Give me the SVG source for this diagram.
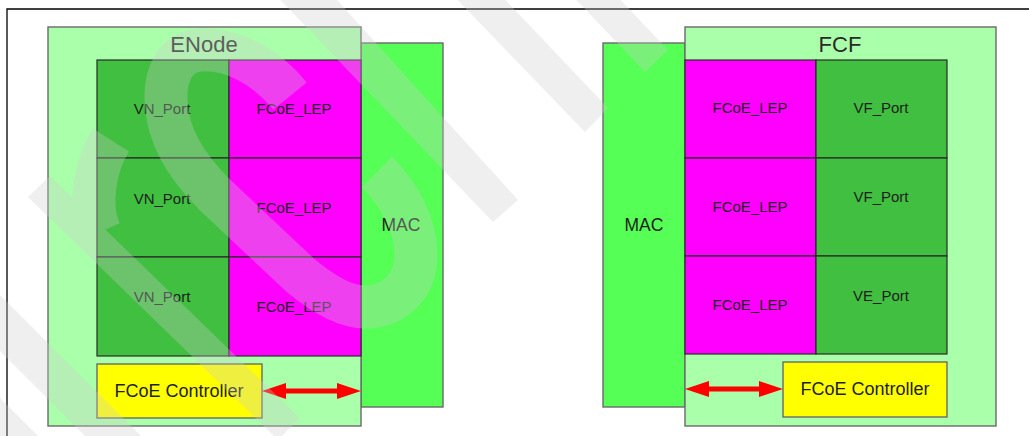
<svg xmlns="http://www.w3.org/2000/svg" width="1029" height="436" viewBox="0 0 1029 436">
<style>
  .outer { fill: #AAFFAA; stroke: #6A6A6A; stroke-width: 1.4; }
  .mac { fill: #55FF55; stroke: #6A6A6A; stroke-width: 1.4; }
  .dg { fill: #40BF40; stroke: #2A2A2A; stroke-width: 1.2; }
  .mg { fill: #FF00FF; stroke: #2A2A2A; stroke-width: 1.2; }
  .ctl { fill: #FFFF00; stroke: #6A6A6A; stroke-width: 1.4; }
  text { font-family: "Liberation Sans", Arial, sans-serif; fill: #1E1E1E; text-anchor: middle; }
  .title { font-size: 22px; fill: #2A2A2A; }
  .cell { font-size: 15px; }
  .maclbl { font-size: 17.5px; }
  .ctllbl { font-size: 18px; }
  .arrow { fill: #FF0000; }
  .wm { fill: rgb(206,206,206); }
  .wms { fill: none; stroke: rgb(206,206,206); stroke-width: 43; }
</style>
<rect x="0" y="0" width="1029" height="436" fill="#FFFFFF"/>
<g id="frame" stroke="#000" stroke-width="1.3" fill="none">
  <path d="M7,436 L7,9 L1029,9"/>
</g>
<g id="enode">
  <rect id="enode-mac" class="mac" x="361" y="43" width="82" height="364"/>
  <rect class="outer" x="48" y="27" width="313" height="399"/>
  <text class="title" x="204" y="52">ENode</text>
  <text class="maclbl" x="401" y="231">MAC</text>
</g>
<g id="enode-vn1"><rect class="dg" x="97" y="60" width="132" height="98"/><text class="cell" x="162" y="114">VN_Port</text></g>
<g id="enode-vn2"><rect class="dg" x="97" y="158" width="132" height="99"/><text class="cell" x="162" y="204">VN_Port</text></g>
<g id="enode-vn3"><rect class="dg" x="97" y="257" width="132" height="99"/><text class="cell" x="162" y="302">VN_Port</text></g>
<g id="enode-lep1"><rect class="mg" x="229" y="60" width="132" height="98"/><text class="cell" x="294" y="114">FCoE_LEP</text></g>
<g id="enode-lep2"><rect class="mg" x="229" y="158" width="132" height="99"/><text class="cell" x="294" y="213">FCoE_LEP</text></g>
<g id="enode-lep3"><rect class="mg" x="229" y="257" width="132" height="99"/><text class="cell" x="294" y="312">FCoE_LEP</text></g>
<g id="enode-ctl"><rect class="ctl" x="97" y="364" width="165" height="54"/><text class="ctllbl" x="179" y="397">FCoE Controller</text></g>

<g id="fcf">
  <rect id="fcf-mac" class="mac" x="603" y="43" width="82" height="364"/>
  <rect class="outer" x="685" y="27" width="311" height="399"/>
  <text class="title" x="840" y="52">FCF</text>
  <text class="maclbl" x="644" y="231">MAC</text>
</g>
<g id="fcf-lep1"><rect class="mg" x="685" y="60" width="131" height="98"/><text class="cell" x="750" y="113">FCoE_LEP</text></g>
<g id="fcf-lep2"><rect class="mg" x="685" y="158" width="131" height="98"/><text class="cell" x="750" y="212">FCoE_LEP</text></g>
<g id="fcf-lep3"><rect class="mg" x="685" y="256" width="131" height="98"/><text class="cell" x="750" y="310">FCoE_LEP</text></g>
<g id="fcf-vf1"><rect class="dg" x="816" y="60" width="131" height="98"/><text class="cell" x="881" y="113">VF_Port</text></g>
<g id="fcf-vf2"><rect class="dg" x="816" y="158" width="131" height="98"/><text class="cell" x="881" y="202">VF_Port</text></g>
<g id="fcf-ve"><rect class="dg" x="816" y="256" width="131" height="98"/><text class="cell" x="881" y="301">VE_Port</text></g>
<g id="fcf-ctl"><rect class="ctl" x="783" y="362" width="164" height="55"/><text class="ctllbl" x="865" y="395">FCoE Controller</text></g>

<g id="connectors">
  <polygon class="arrow" points="262,391 286,383 286,388.5 337,388.5 337,383 361,391 337,399 337,393.5 286,393.5 286,399"/>
  <polygon class="arrow" points="685,389 709,381 709,386.5 759,386.5 759,381 783,389 759,397 759,391.5 709,391.5 709,397"/>
</g>

<g id="watermark" opacity="0.31">
  <polygon class="wm" points="271,-10 328,-10 518,200 493,222"/>
  <polygon class="wm" points="448,-10 496,-10 608,108 585,132"/>
  <polygon class="wm" points="567,-10 611,-10 668,50 645,72"/>
  <polygon class="wm" points="28,197 50,176 300,418 282,436 274,436"/>
  <polygon class="wm" points="0,295 141,436 85,436 0,351"/>
  <polygon class="wm" points="0,398 38,436 0,436"/>
  <path class="wms" d="M290,96 C265,65 230,48 200,50 C175,52 165,75 166,100 C167,135 185,165 215,195 L300,275 C330,300 350,307 365,307 C395,307 416,285 416,255 C416,225 400,195 377,172"/>
  <path class="wms" d="M111,140 C95,165 88,205 100,232"/>
</g>
</svg>
